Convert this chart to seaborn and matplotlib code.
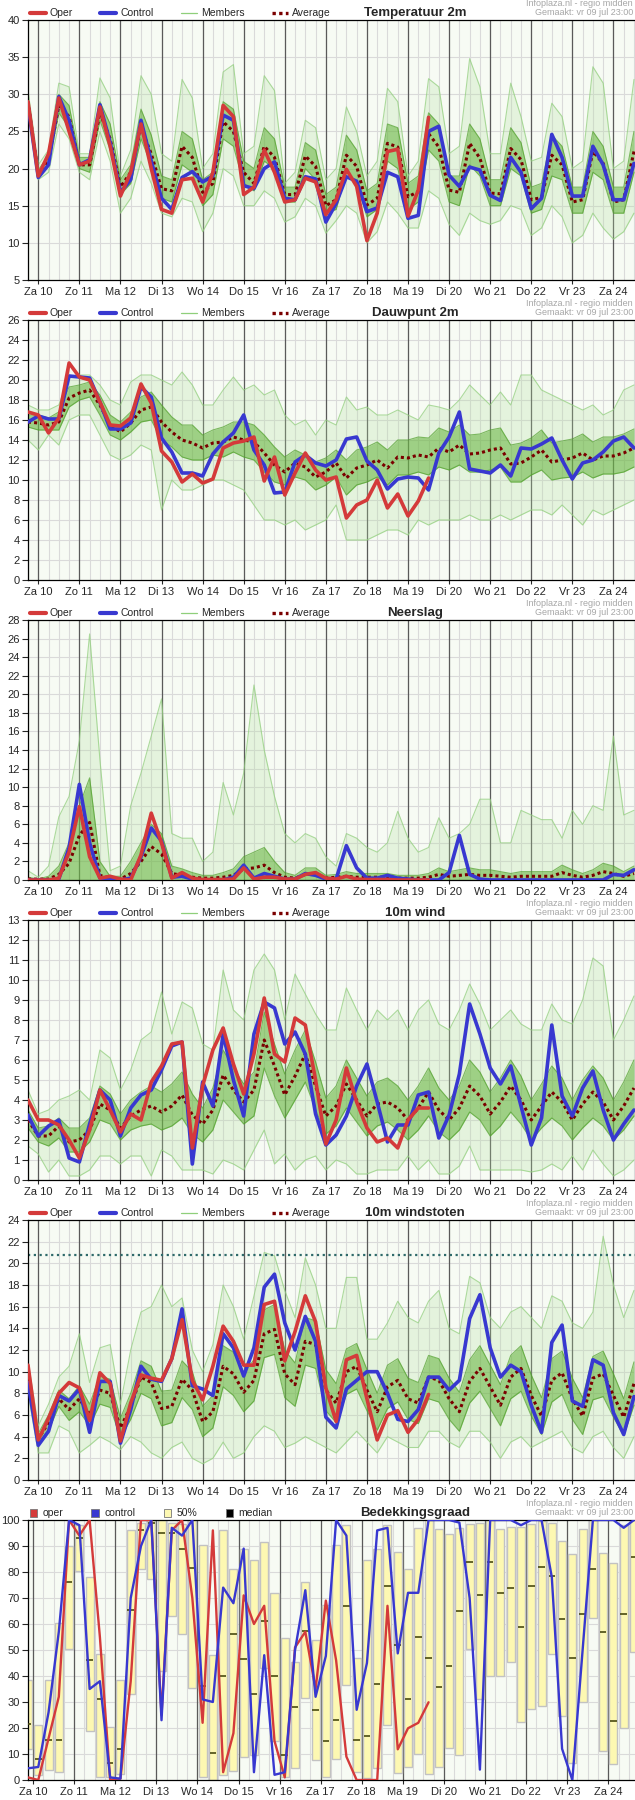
import numpy as np
import seaborn as sns
import matplotlib.pyplot as plt
from matplotlib.lines import Line2D
from matplotlib.patches import Patch

sns.set_style('white')
plt.rcParams['font.family'] = ['Liberation Sans', 'DejaVu Sans']

# ---- colours ----
OPER = '#d43a3a'
CTRL = '#3838d0'
AVG = '#7a0000'
MEMB = '#5aae2e'
DAYLINE = '#5a5a5a'
GRID = '#dadada'
BG = '#f7fbf4'

DAYS = ['Za 10', 'Zo 11', 'Ma 12', 'Di 13', 'Wo 14', 'Do 15', 'Vr 16', 'Za 17',
        'Zo 18', 'Ma 19', 'Di 20', 'Wo 21', 'Do 22', 'Vr 23', 'Za 24']
steps = np.arange(60)  # 6-hourly steps

# ---- Temperatuur 2m ----
t2m_oper = [29, 19, 22, 29.5, 25, 20.5, 21, 28.3, 23, 16.3,
            19.5, 26, 20, 14.5, 14, 18.5, 18.7, 15.5, 19.5, 28.5,
            27, 16.5, 17.5, 22.5, 19.5, 15.5, 15.8, 18.7, 18.2, 13.8,
            15.8, 19.9, 17.6, 10.3, 14, 22.3, 22.6, 13.6, 17.1, 26.9]
t2m_ctrl = [28.5, 18.8, 20.5, 29.7, 26.5, 20.5, 21.2, 28.6, 23.5, 16.8,
            18.5, 26.5, 21, 16, 14.5, 18.8, 19.6, 18.2, 19, 27.2,
            26.5, 17.7, 17.3, 20, 20.9, 16, 15.8, 18.9, 18.6, 12.8,
            15.3, 18.9, 18.3, 14.2, 14.7, 19.5, 18.9, 13.3, 13.7, 25,
            25.7, 19.1, 17.6, 20.2, 19.8, 16.4, 15.7, 21.5, 19.5, 14.6,
            16, 24.6, 21.5, 16.3, 16.3, 23, 20.5, 15.8, 15.8, 20.7]
t2m_avg = [29, 19.2, 21, 28.5, 27, 20.5, 20.5, 27.5, 24, 17.5,
           19.5, 25.5, 22, 17.3, 17, 23, 21.5, 16.8, 18, 26.3,
           25, 19.5, 18, 23, 21.5, 16.5, 16.5, 21.7, 20.3, 15,
           15.8, 21.8, 20.3, 15.1, 16, 23.4, 22.9, 16.2, 16.9, 24.7,
           22.9, 17.1, 16.8, 23.4, 21.4, 16.7, 16.6, 22.7, 21.2, 15.8,
           16.1, 21.8, 20.5, 15.5, 15.8, 22.3, 20.7, 15.5, 15.8, 22.3]
t2m_min = [28, 18.5, 19.5, 26, 24, 19.5, 18.5, 25, 21, 14,
           16, 21, 18, 14, 13.5, 16, 15.5, 11.5, 14, 20,
           19, 15, 15, 17, 16, 12.8, 13.5, 16, 15, 11.3,
           13, 15, 14, 10, 11.5, 15.5, 14, 12, 12, 17,
           16, 12.5, 11, 14, 13, 12.5, 13, 15, 14.5, 11,
           12, 15, 13.5, 10, 11, 14, 12, 10.5, 11.5, 14]
t2m_max = [30.5, 20.5, 22.5, 31.5, 31, 22, 22, 32.2, 29.5, 19,
           22.5, 32.5, 30, 22, 21, 32, 29.5, 20, 22, 33,
           34, 22, 23, 32.5, 30.5, 18, 19.5, 26.5, 25.5, 18.5,
           20, 28.3, 25, 19, 21, 30.8, 29, 19, 21, 32.1,
           31, 22, 23, 34.8, 31, 22, 22, 31.5, 27, 21,
           21.5, 28.8, 27, 20, 21, 33.7, 31.5, 20, 21, 32]
t2m_lo = [28.5, 18.8, 20.5, 27.5, 25.5, 20, 19.5, 26.5, 22.5, 16.5,
          18, 24, 20.5, 16, 15.5, 20.5, 19.5, 15, 16.5, 24,
          23, 18, 17, 21, 20, 15.5, 15.5, 20, 18.5, 14,
          14.5, 19.5, 18, 13.5, 14.5, 21, 20, 14.5, 15.5, 22.5,
          21, 15.5, 15, 20.5, 19, 15, 15, 20, 19, 14,
          14.5, 19, 18.5, 14, 14, 19.5, 18.5, 14, 14, 19.5]
t2m_hi = [29.5, 19.8, 21.8, 30, 28.5, 21.5, 21.5, 29, 26, 18.5,
          20.5, 28, 24.5, 19, 18.5, 25, 24, 18.5, 19.5, 29,
          28, 21, 20, 25.5, 24, 17.5, 17.5, 23.5, 22.5, 16.5,
          17.5, 24.5, 22.5, 17, 18, 26, 25.5, 18, 19, 27.5,
          26, 19, 19, 26, 24, 18.5, 18.5, 25.5, 23.5, 17.5,
          18, 24.5, 23, 17.5, 17.5, 25, 23, 17.5, 17.5, 25]

# ---- Dauwpunt 2m ----
dew_oper = [16.8, 16.5, 14.7, 16.2, 21.7, 20.3, 20, 17.8, 15.5, 15.4,
            16.2, 19.6, 17.7, 12.9, 11.8, 9.8, 10.6, 9.7, 10.1, 13.2,
            13.7, 13.9, 14.3, 9.9, 12.3, 8.5, 10.7, 12.7, 11, 10,
            10.3, 6.2, 7.5, 8, 10, 7.2, 8.6, 6.4, 7.9, 10.2]
dew_ctrl = [15.8, 16.4, 16.1, 16.1, 20.4, 20.3, 20.2, 17.8, 15.1, 15.1,
            15.7, 19.3, 18.3, 14.2, 12.8, 10.7, 10.7, 10.4, 12.6, 13.8,
            14.7, 16.5, 13, 11.5, 8.7, 8.8, 11.8, 12.5, 11.7, 11.4,
            12, 14.1, 14.3, 11.9, 11, 9.1, 10.1, 10.3, 10.2, 9,
            12.7, 14.3, 16.8, 11.1, 10.9, 10.7, 11.5, 10.4, 13.2, 13.1,
            13.6, 14.2, 12, 10.1, 11.7, 12, 12.8, 13.9, 14.3, 13.2]
dew_avg = [15.8, 15.7, 15.5, 15.8, 18.2, 18.7, 19, 17.5, 15.5, 14.8,
           15.7, 17, 17.3, 15.8, 14.8, 14, 13.7, 13.2, 13.7, 13.8,
           14.3, 14, 13.8, 12.7, 11.5, 10.8, 11.7, 11.3, 10.3, 10.8,
           11.7, 10.2, 11.2, 11.5, 12, 11.2, 12.3, 12.2, 12.5, 12.3,
           13.2, 12.8, 13.5, 12.6, 12.7, 13, 13.2, 11.6, 11.7, 12.3,
           13, 11.8, 12, 12.2, 12.7, 12, 12.4, 12.4, 12.7, 13.2]
dew_min = [14, 13, 14.5, 13.5, 16, 16.5, 16.5, 14.5, 12.5, 12,
           12.5, 13.5, 13, 7, 10, 9, 9, 9.5, 10, 10,
           9.5, 9, 7.5, 6, 6, 5.5, 6, 5, 5.5, 6,
           7.5, 4, 4, 4, 4.5, 5, 5, 4.5, 6, 5.5,
           6, 6, 6, 6.5, 6, 6, 6.5, 6, 6.5, 7,
           7, 6.5, 7.5, 6.5, 5.5, 7, 6.5, 7, 7.5, 8]
dew_max = [17.5, 17, 17, 17.5, 20.3, 20.5, 20.5, 19.5, 18, 17.5,
           19.8, 20.5, 20.5, 20, 19.5, 20.8, 19.5, 17.5, 17.5, 19,
           20.3, 19, 19.5, 18.5, 19, 16.5, 15.5, 16, 14.5, 16,
           15.5, 18.3, 17, 17.3, 16.5, 16.5, 17, 16.5, 16, 17.5,
           17.3, 17, 18, 19.5, 18.5, 17.5, 18.8, 17.5, 20.5, 20.5,
           19, 18.5, 18, 17.5, 17, 17.5, 16.5, 17, 19, 19.5]
dew_lo = [15.3, 15, 15, 15, 17.3, 18, 18.3, 16.5, 14.5, 14,
          14.8, 15.8, 16, 14, 13.3, 12.3, 12, 12, 12.5, 12.3,
          12.8, 12.3, 12, 10.8, 9.8, 9.5, 10.3, 10, 9, 9.5,
          10.3, 8.5, 9.5, 9.8, 10.3, 9.5, 10.5, 10.5, 10.8, 10.5,
          11.3, 11, 11.5, 10.8, 10.8, 11, 11.3, 9.8, 9.8, 10.5,
          11, 10, 10.2, 10.3, 10.8, 10.2, 10.6, 10.6, 10.8, 11.3]
dew_hi = [16.5, 16.5, 16.2, 16.8, 19.3, 19.5, 19.8, 18.5, 16.5, 15.8,
          16.8, 18.3, 18.8, 17.5, 16.3, 15.5, 15.5, 14.5, 15, 15.3,
          15.8, 15.8, 15.5, 14.5, 13.3, 12.3, 13, 12.5, 11.8, 12.2,
          13, 12, 13, 13.3, 13.8, 13, 14, 14, 14.3, 14.2,
          15.2, 14.8, 15.5, 14.5, 14.6, 15, 15.2, 13.5, 13.7, 14.2,
          15, 13.7, 13.9, 14.1, 14.6, 13.8, 14.3, 14.3, 14.6, 15.1]

# ---- Neerslag ----
rr_oper = [0, 0, 0, 0.2, 3, 7.9, 2.5, 0.2, 0.4, 0.1,
           0, 2.7, 7.2, 4, 0.2, 0.8, 0.2, 0.05, 0.05, 0.05,
           0.1, 1.3, 0.1, 0.3, 0.3, 0.1, 0.1, 0.6, 0.8, 0.2,
           0.1, 0.4, 0.1, 0.05, 0.05, 0.05, 0, 0, 0, 0]
rr_ctrl = [0, 0, 0, 0.1, 3.5, 10.3, 4, 0.2, 0.1, 0,
           0.2, 2.5, 5.6, 4.2, 0.3, 0.4, 0.1, 0, 0, 0,
           0.3, 1.6, 0.2, 0.7, 0.4, 0.1, 0.1, 0.7, 0.5, 0.1,
           0.1, 3.7, 1.3, 0.2, 0.2, 0.5, 0.2, 0.1, 0, 0,
           0, 0.8, 4.8, 0.6, 0.1, 0, 0, 0, 0, 0,
           0, 0, 0, 0, 0, 0, 0, 0.6, 0.5, 1.1]
rr_avg = [0.1, 0.1, 0.1, 0.6, 1.8, 4.8, 6.2, 0.5, 0.2, 0.1,
          0.7, 2, 3.6, 2.8, 0.7, 0.5, 0.3, 0.2, 0.2, 0.3,
          0.5, 1.2, 1.3, 1.6, 0.8, 0.3, 0.2, 0.6, 0.6, 0.2,
          0.3, 0.4, 0.3, 0.3, 0.3, 0.3, 0.2, 0.2, 0.2, 0.3,
          0.6, 0.4, 0.5, 0.6, 0.5, 0.5, 0.4, 0.3, 0.4, 0.4,
          0.4, 0.4, 0.8, 0.5, 0.3, 0.5, 0.9, 0.7, 0.4, 0.7]
rr_min = [0, 0, 0, 0, 0, 0, 0, 0, 0, 0,
          0, 0, 0, 0, 0, 0, 0, 0, 0, 0,
          0, 0, 0, 0, 0, 0, 0, 0, 0, 0,
          0, 0, 0, 0, 0, 0, 0, 0, 0, 0,
          0, 0, 0, 0, 0, 0, 0, 0, 0, 0,
          0, 0, 0, 0, 0, 0, 0, 0, 0, 0]
rr_max = [1, 0.3, 1.5, 6.8, 9, 15, 26.5, 13, 1, 1.5,
          8, 11.5, 15.5, 19.5, 5, 4.5, 4.5, 2, 3, 10.5,
          7, 11.5, 21, 14, 9, 5, 4, 5, 4.5, 2.5,
          1.5, 5, 4.5, 3.5, 3, 4, 7.4, 4.5, 3, 3.5,
          6.7, 4.5, 5, 6, 8.7, 8.7, 4, 4, 7.5, 7,
          6.5, 6.5, 4.5, 7.5, 6, 8, 7.5, 15.5, 7, 7.5]
rr_hi = [0.3, 0.1, 0.4, 1.5, 4, 8, 11, 2, 0.4, 0.4,
         2, 4, 6, 5, 1.5, 1.2, 0.8, 0.5, 0.5, 0.8,
         1.2, 2.5, 3, 3.5, 2, 0.8, 0.5, 1.3, 1.3, 0.5,
         0.6, 0.9, 0.7, 0.7, 0.7, 0.7, 0.5, 0.5, 0.5, 0.7,
         1.3, 0.9, 1.1, 1.3, 1.1, 1.1, 0.9, 0.7, 0.9, 0.9,
         0.9, 0.9, 1.6, 1.1, 0.7, 1.1, 1.8, 1.5, 0.9, 1.5]

# ---- 10m wind ----
ff_oper = [4, 3, 3, 2.75, 2, 1.1, 2.5, 4.5, 3.5, 2.4,
           3.3, 3, 4.9, 5.7, 6.8, 6.9, 1.6, 4.7, 6.5, 7.6,
           5.8, 4.3, 6.3, 9.1, 6.3, 5.9, 8.1, 7.75, 5, 1.8,
           3, 5.6, 3.9, 2.6, 1.9, 2.1, 1.6, 3, 3.6, 3.6]
ff_ctrl = [3.25, 2.2, 2.7, 3, 1.1, 0.9, 2.8, 4.5, 4, 2.2,
           3.6, 4.25, 4.5, 5.5, 6.7, 6.9, 0.8, 4.9, 3.7, 7.3,
           5, 3.2, 7.3, 8.9, 8.6, 6.8, 7.4, 6.3, 3.3, 1.75,
           2.25, 3.2, 4.7, 5.8, 3.9, 1.9, 2.75, 2.75, 4.25, 4.4,
           2.1, 3.25, 5.3, 8.8, 7.3, 5.6, 4.8, 5.7, 3.7, 1.75,
           3.1, 7.75, 4.2, 3.2, 4.6, 5.45, 3.5, 2, 2.8, 3.5]
ff_avg = [3, 2.2, 2.2, 2.7, 1.9, 2, 2.5, 3.8, 3.5, 2.6,
          3.2, 3.5, 3.7, 3.4, 3.7, 4.25, 3.25, 2.8, 3.5, 5.25,
          4.5, 3.9, 4.5, 7, 5.7, 4.25, 5.2, 6.3, 4.7, 3.2,
          3.7, 4.8, 4, 3.2, 3.8, 3.9, 3.6, 3, 3.6, 4.4,
          3.5, 3, 3.6, 4.7, 4.2, 3.3, 3.9, 4.7, 4, 3,
          3.7, 4.4, 3.9, 3, 3.8, 4.4, 3.9, 3, 3.7, 4.6]
ff_min = [1.7, 1.3, 0.4, 1, 0.2, 0.2, 0.5, 1.2, 1.2, 0.8,
          1.2, 1.2, 0.2, 1.5, 1.2, 0.5, 0.5, 0.5, 0.3, 1,
          0.8, 0.5, 1.5, 2.5, 0.8, 1.3, 0.5, 1, 1.2, 0.5,
          1, 0.8, 0.3, 0.3, 0.5, 0.5, 0.5, 1.2, 0.5, 1,
          0.3, 0.3, 0.7, 1.7, 0.5, 0.5, 0.5, 0.5, 0.5, 0.4,
          0.5, 0.8, 0.5, 1.2, 0.5, 1.5, 0.8, 0.2, 0.5, 1]
ff_max = [4.5, 3.3, 3.5, 4, 4.2, 4.5, 4, 6.5, 6.1, 4.5,
          5.5, 7, 7.4, 9.4, 7.3, 8.9, 8.6, 6.8, 6.5, 10.5,
          8.5, 8, 10.5, 11.3, 10.5, 8, 10.3, 9.3, 8.3, 7.5,
          7.5, 9.6, 8.5, 7.5, 8.5, 8, 8.5, 7.5, 8.5, 9,
          7.8, 7.5, 8.5, 9.8, 8.8, 7.5, 8, 8.5, 7.8, 7.5,
          7.5, 8.8, 8, 7.8, 9, 11.1, 10.7, 7, 8, 9.2]
ff_lo = [2.6, 1.9, 1.7, 2.1, 1.4, 1.4, 1.9, 3, 2.8, 2,
         2.5, 2.7, 2.8, 2.5, 2.7, 3.1, 2.3, 1.9, 2.5, 4,
         3.4, 2.8, 3.2, 5.6, 4.2, 3.1, 4, 4.9, 3.5, 2.3,
         2.7, 3.6, 2.9, 2.2, 2.7, 2.9, 2.5, 2, 2.5, 3.2,
         2.4, 2, 2.5, 3.4, 3, 2.2, 2.7, 3.4, 2.8, 2,
         2.6, 3.1, 2.7, 2, 2.6, 3.1, 2.7, 2, 2.5, 3.2]
ff_hi = [3.5, 2.6, 2.7, 3.1, 2.6, 2.6, 3.1, 4.7, 4.3, 3.3,
         4, 4.4, 4.7, 4.4, 4.8, 5.4, 4.3, 3.6, 4.6, 6.5,
         5.6, 4.8, 5.4, 8.4, 6.8, 5.3, 6.5, 7.5, 5.9, 4.1,
         4.7, 6, 5.1, 4.2, 4.9, 5.1, 4.7, 4, 4.7, 5.6,
         4.6, 4, 4.7, 6, 5.4, 4.4, 5.1, 6, 5.2, 4,
         4.8, 5.7, 5.1, 4, 5, 5.7, 5.1, 4, 4.9, 6]

# ---- 10m windstoten ----
fx_oper = [10.6, 3.7, 5.7, 8, 9, 8.5, 5.5, 9.9, 8.9, 3.6,
           7.1, 9.7, 9.4, 9.2, 11.2, 14.8, 9.2, 7.4, 10.5, 14.2,
           12.8, 10.6, 10.6, 16.2, 16.5, 11, 13.7, 17, 14.6, 8.5,
           5.4, 11.1, 11.5, 7.5, 3.7, 6, 6.4, 4.4, 5.6, 7.9]
fx_ctrl = [9, 3.2, 4.5, 7.8, 7.3, 8.4, 4.4, 9.1, 9.1, 3.4,
           6.5, 10.5, 9.3, 9.1, 11.2, 15.8, 8.7, 8.4, 7.8, 13.5,
           12.2, 9.6, 12.2, 17.8, 19, 14.5, 12, 15.1, 12.8, 5.8,
           4.8, 8.4, 9.2, 10, 10, 8, 5.6, 5.4, 6.5, 9.5,
           9.5, 8.3, 9.2, 14.9, 17.1, 12.2, 9.5, 10.6, 10, 6.9,
           4.4, 12.7, 14.3, 7.3, 6.8, 11.1, 10.6, 6.2, 4.2, 7.7]
fx_avg = [9.5, 3.8, 5.3, 7.5, 6.5, 7.5, 6, 8.3, 8, 4.8,
          6.8, 9.5, 9, 6.6, 6.8, 9.3, 8.3, 5.4, 6.3, 10.5,
          9.8, 8.1, 9.2, 13.5, 13.9, 9.8, 8.8, 12.8, 12.5, 8.3,
          7.1, 10, 10.5, 8.3, 6.3, 8.6, 9.2, 7.5, 7.1, 9.5,
          9.2, 7.5, 6.3, 9.1, 10.3, 8.6, 6.9, 9.5, 10.3, 7.8,
          5.9, 9.2, 9.9, 7.5, 5.9, 9.4, 9.8, 7.8, 5.8, 8.9]
fx_min = [8, 2.5, 2.5, 5, 4.5, 2.5, 3.2, 4, 3.5, 2.8,
          4, 3.5, 2.5, 2, 3, 3.5, 2, 1.5, 2, 3.5,
          2, 2.5, 4, 5, 4.5, 3, 3.4, 4, 3.5, 3,
          2.5, 3.5, 4.5, 3.5, 2.5, 4, 3.5, 3, 3, 4.5,
          4.5, 3.5, 3, 4.5, 4.5, 3.5, 2, 3.5, 4, 3,
          3.5, 4, 4.5, 3, 2.5, 4, 4.5, 3, 2, 4]
fx_max = [11, 5, 7, 9.5, 10.5, 13.5, 9, 12.2, 12.5, 7,
          12, 15.5, 16, 18, 16, 16.8, 12, 10, 12.5, 18,
          16, 13, 17, 21, 20.7, 17.5, 15, 20.5, 18, 14,
          14, 18.7, 18.7, 13, 13, 14.5, 16.5, 15, 14.5, 16.5,
          17.5, 14, 13.5, 18.8, 18.2, 15, 14, 15.5, 16, 15,
          14, 17, 16.5, 14.5, 14, 15.5, 22.5, 18, 15, 17.5]
fx_lo = [8.8, 3.3, 4.6, 6.8, 5.5, 6.3, 5, 7, 6.7, 3.9,
         5.6, 8, 7.5, 5, 5.3, 7.6, 6.5, 4, 4.8, 8.6,
         7.8, 6.3, 7.3, 11.3, 11.6, 7.6, 6.8, 10.6, 10.3, 6.4,
         5.3, 7.9, 8.4, 6.4, 4.6, 6.6, 7.2, 5.6, 5.2, 7.5,
         7.2, 5.6, 4.5, 7.1, 8.2, 6.6, 5, 7.5, 8.2, 5.9,
         4.2, 7.2, 7.9, 5.6, 4.2, 7.4, 7.7, 5.8, 4.1, 6.9]
fx_hi = [10.2, 4.3, 6, 8.3, 7.5, 8.7, 7, 9.6, 9.3, 5.7,
         8, 11, 10.5, 8.2, 8.3, 11, 10, 6.8, 7.8, 12.4,
         11.8, 9.9, 11.1, 15.7, 16.2, 12, 10.8, 15, 14.7, 10.2,
         8.9, 12.1, 12.6, 10.2, 8, 10.6, 11.2, 9.4, 9, 11.5,
         11.2, 9.4, 8.1, 11.1, 12.4, 10.6, 8.8, 11.5, 12.4, 9.7,
         7.6, 11.2, 11.9, 9.4, 7.6, 11.4, 11.9, 9.8, 7.5, 10.9]
fx_limit = 20.8

# ---- Bedekkingsgraad ----
cc_oper = [1, 0, 16, 32, 100, 94, 100, 55, 0, 0.5,
           38, 100, 100, 25, 96, 100, 70, 22, 96, 3,
           18, 71, 60, 67, 15, 1, 51, 57, 35, 69,
           46, 9, 0, 0, 0, 67, 11.8, 19.9, 22, 29.9]
cc_ctrl = [4.5, 5, 26, 57, 100, 98, 35, 38, 1, 0.5,
           70, 90, 100, 23, 97, 94, 100, 31, 30, 74,
           68, 89, 3, 48, 2, 3, 50, 73, 32, 47.7,
           100, 94, 27, 45, 96, 97, 48.7, 72, 72, 100,
           100, 100, 99, 70, 4, 100, 100, 100, 98, 100,
           100, 78, 12, 0, 50, 100, 100, 100, 97, 100]
cc_p25 = [12, 2, 4, 3, 50.5, 80.5, 19, 1, 1, 2.5,
          33, 81, 77.5, 42, 63, 56, 35.5, 1, 0, 2,
          3.5, 9, 9.5, 43, 15, 1, 4.5, 31.5, 7.7, 1.3,
          8, 36.5, 3.2, 0.6, 4.5, 21, 2.6, 5, 10, 2.3,
          5, 12.2, 9.6, 50.3, 31, 40, 40, 45.3, 22.4, 27.2,
          28.5, 48.3, 24.6, 6.7, 30.1, 62.2, 11.2, 6.2, 19.9, 49.4]
cc_p75 = [38.5, 21, 38.5, 60.5, 90, 98, 78, 48.5, 20.5, 38.5,
          96, 99, 100, 100, 99, 98.5, 100, 90.5, 48, 96,
          81, 89, 84.5, 91.5, 72, 54.5, 45.5, 76, 54, 67.3,
          90.4, 98, 47, 84.6, 89, 98, 87.8, 81, 96.8, 100,
          96.4, 94.6, 96.8, 98.5, 98.7, 100, 96.4, 97.2, 97.4, 98.5,
          99.7, 98.7, 92, 86.8, 96.4, 100, 87.2, 83.6, 98, 100]
cc_med = [21.5, 8, 15.5, 15.5, 76, 93, 46, 31, 6.5, 12,
          65.5, 96, 99, 95, 95, 89, 81.5, 36, 10.5, 40,
          56, 46.5, 33, 61, 40, 9.5, 28, 57.5, 27, 15.1,
          23, 67, 15.4, 17, 37, 74.6, 52, 31, 55, 46.8,
          35.9, 43.8, 65, 83.8, 71, 83.7, 71.8, 73.7, 58.7, 74.7,
          81.8, 78.5, 62, 46.8, 63.7, 81, 56.8, 22.8, 63.7, 85.9]

W, H = 635, 1800
fig = plt.figure(figsize=(W / 100, H / 100), dpi=100)


def make_axes(k):
    top = 20 + 300 * k
    ax = fig.add_axes([28 / W, 1 - (top + 260) / H, 607 / W, 260 / H])
    ax.set_facecolor(BG)
    ax.set_xlim(0, 59.1)
    for s in ['top', 'left', 'bottom']:
        ax.spines[s].set_color('black')
        ax.spines[s].set_linewidth(0.9)
    ax.spines['right'].set_visible(False)
    ax.tick_params(axis='y', direction='out', length=4, width=0.8, labelsize=8, pad=2, left=True)
    ax.tick_params(axis='x', direction='out', length=3, width=0.8, labelsize=8, pad=2, bottom=True)
    return ax


def header(ax, title):
    ax.text(0.6376, 1.027, title, transform=ax.transAxes, ha='center', va='center',
            fontsize=9.5, fontweight='bold')
    ax.text(0.9967, 1.062, 'Infoplaza.nl - regio midden', transform=ax.transAxes,
            ha='right', va='center', fontsize=6.5, color='#a6a6a6')
    ax.text(0.9967, 1.027, 'Gemaakt: vr 09 jul 23:00', transform=ax.transAxes,
            ha='right', va='center', fontsize=6.5, color='#a6a6a6')


def grid(ax, vlines, days, yticks):
    for v in vlines:
        ax.axvline(v, color=GRID, lw=0.8, zorder=0.5)
    for d in days:
        ax.axvline(d, color=DAYLINE, lw=0.9, zorder=1)
    for y in yticks[1:-1]:
        ax.axhline(y, color=GRID, lw=0.8, zorder=0.5)
    ax.set_yticks(yticks)
    ax.set_xticks(days)
    ax.set_xticklabels(DAYS)
    ax.set_xlabel('')
    ax.set_ylabel('')


ens_handles = [Line2D([], [], color=OPER, lw=3),
               Line2D([], [], color=CTRL, lw=3),
               Line2D([], [], color='#8fcf7a', lw=0.9),
               Line2D([], [], color=AVG, lw=2.4, linestyle=(0, (1, 1)))]
ens_labels = ['Oper', 'Control', 'Members', 'Average']


def ens_panel(k, title, ylim, ystep, oper, ctrl, avg, mn, mx, lo, hi, limit=None):
    ax = make_axes(k)
    ax.set_ylim(*ylim)
    yticks = np.arange(ylim[0], ylim[1] + ystep / 2, ystep)
    day_pos = [1 + 4 * d for d in range(len(DAYS))]

    # spread of the ensemble members: faint outer range, dense inner band
    ax.fill_between(steps, mn, mx, color='#b4dfa2', alpha=0.28, lw=0, zorder=2)
    ax.fill_between(steps, lo, hi, color=MEMB, alpha=0.5, lw=0, zorder=2.1)
    sns.lineplot(x=steps, y=mn, ax=ax, color='#93cf7f', lw=0.8, alpha=0.75, zorder=2.2)
    sns.lineplot(x=steps, y=mx, ax=ax, color='#93cf7f', lw=0.8, alpha=0.75, zorder=2.2)
    sns.lineplot(x=steps, y=lo, ax=ax, color='#4f9f2a', lw=0.8, alpha=0.7, zorder=2.2)
    sns.lineplot(x=steps, y=hi, ax=ax, color='#4f9f2a', lw=0.8, alpha=0.7, zorder=2.2)

    if limit is not None:
        ax.axhline(limit, color='#2f6a6a', lw=1.6, linestyle=(0, (1, 1.6)), zorder=2.5)

    sns.lineplot(x=steps, y=avg, ax=ax, color=AVG, lw=2.2, linestyle=(0, (1, 1)), zorder=3)
    sns.lineplot(x=steps, y=ctrl, ax=ax, color=CTRL, lw=2.6, zorder=4)
    sns.lineplot(x=steps[:len(oper)], y=oper, ax=ax, color=OPER, lw=2.6, zorder=5)

    grid(ax, steps, day_pos, yticks)
    ax.set_ylim(*ylim)
    ax.set_xlim(0, 59.1)
    header(ax, title)
    ax.legend(ens_handles, ens_labels, loc='lower left', bbox_to_anchor=(0, 1.0), ncol=4,
              frameon=False, fontsize=7.5, handlelength=1.55, handletextpad=0.4,
              columnspacing=2.6, borderaxespad=0.15, borderpad=0.0)
    return ax


ens_panel(0, 'Temperatuur 2m', (5, 40), 5, t2m_oper, t2m_ctrl, t2m_avg, t2m_min, t2m_max, t2m_lo, t2m_hi)
ens_panel(1, 'Dauwpunt 2m', (0, 26), 2, dew_oper, dew_ctrl, dew_avg, dew_min, dew_max, dew_lo, dew_hi)
ens_panel(2, 'Neerslag', (0, 28), 2, rr_oper, rr_ctrl, rr_avg, rr_min, rr_max, rr_min, rr_hi)
ens_panel(3, '10m wind', (0, 13), 1, ff_oper, ff_ctrl, ff_avg, ff_min, ff_max, ff_lo, ff_hi)
ens_panel(4, '10m windstoten', (0, 24), 2, fx_oper, fx_ctrl, fx_avg, fx_min, fx_max, fx_lo, fx_hi,
          limit=fx_limit)

# ---- cloud cover panel ----
ax = make_axes(5)
ax.set_ylim(0, 100)
day_pos6 = [0.5 + 4 * d for d in range(len(DAYS))]
p25 = np.array(cc_p25)
p75 = np.array(cc_p75)
ax.bar(steps, p75 - p25, bottom=p25, width=0.78, color='#fdf8b2', edgecolor='#c2c2c2',
       linewidth=1.0, zorder=2)
ax.hlines(cc_med, steps - 0.32, steps + 0.32, color='#4a4a10', lw=1.2, zorder=3)
sns.lineplot(x=steps[:len(cc_oper)], y=cc_oper, ax=ax, color=OPER, lw=1.7, zorder=4)
sns.lineplot(x=steps, y=cc_ctrl, ax=ax, color=CTRL, lw=1.7, zorder=5)
grid(ax, steps + 0.5, day_pos6, np.arange(0, 101, 10))
ax.set_ylim(0, 100)
ax.set_xlim(0, 59.1)
header(ax, 'Bedekkingsgraad')
cc_handles = [Patch(facecolor=OPER, edgecolor='#777777', lw=0.6),
              Patch(facecolor=CTRL, edgecolor='#777777', lw=0.6),
              Patch(facecolor='#fdf8b2', edgecolor='#777777', lw=0.6),
              Patch(facecolor='black', edgecolor='#777777', lw=0.6)]
ax.legend(cc_handles, ['oper', 'control', '50%', 'median'], loc='lower left',
          bbox_to_anchor=(0, 1.0), ncol=4, frameon=False, fontsize=7.5,
          handlelength=0.75, handleheight=0.75, handletextpad=0.5,
          columnspacing=2.7, borderaxespad=0.15, borderpad=0.0)

fig.savefig('out.png', dpi=100, facecolor='white')
